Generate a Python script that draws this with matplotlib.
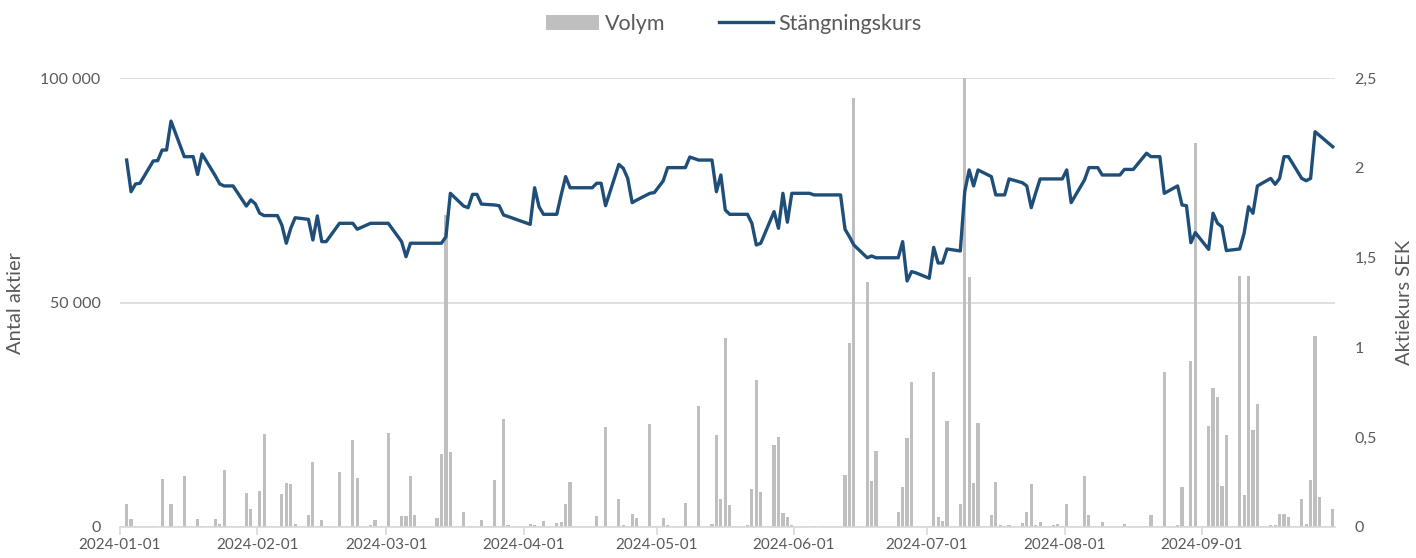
import matplotlib
matplotlib.use("Agg")
import matplotlib.pyplot as plt
import matplotlib.dates as mdates
import matplotlib.ticker as mticker
import pandas as pd

# Closing price (SEK), points where the line changes direction
price_dates = [
    "2024-01-02", "2024-01-03", "2024-01-04", "2024-01-05", "2024-01-08", "2024-01-09",
    "2024-01-10", "2024-01-11", "2024-01-12", "2024-01-15", "2024-01-16", "2024-01-17",
    "2024-01-18", "2024-01-19", "2024-01-22", "2024-01-23", "2024-01-24", "2024-01-26",
    "2024-01-29", "2024-01-30", "2024-01-31", "2024-02-01", "2024-02-02", "2024-02-05",
    "2024-02-06", "2024-02-07", "2024-02-08", "2024-02-09", "2024-02-12", "2024-02-13",
    "2024-02-14", "2024-02-15", "2024-02-16", "2024-02-19", "2024-02-22", "2024-02-23",
    "2024-02-26", "2024-03-01", "2024-03-04", "2024-03-05", "2024-03-06", "2024-03-13",
    "2024-03-14", "2024-03-15", "2024-03-18", "2024-03-19", "2024-03-20", "2024-03-21",
    "2024-03-22", "2024-03-25", "2024-03-26", "2024-03-27", "2024-03-28", "2024-04-02",
    "2024-04-03", "2024-04-04", "2024-04-05", "2024-04-08", "2024-04-09", "2024-04-10",
    "2024-04-11", "2024-04-16", "2024-04-17", "2024-04-18", "2024-04-19", "2024-04-22",
    "2024-04-23", "2024-04-24", "2024-04-25", "2024-04-26", "2024-04-29", "2024-04-30",
    "2024-05-02", "2024-05-03", "2024-05-07", "2024-05-08", "2024-05-10", "2024-05-13",
    "2024-05-14", "2024-05-15", "2024-05-16", "2024-05-17", "2024-05-21", "2024-05-22",
    "2024-05-23", "2024-05-24", "2024-05-27", "2024-05-28", "2024-05-29", "2024-05-30",
    "2024-05-31", "2024-06-04", "2024-06-05", "2024-06-11", "2024-06-12", "2024-06-13",
    "2024-06-14", "2024-06-17", "2024-06-18", "2024-06-19", "2024-06-24", "2024-06-25",
    "2024-06-26", "2024-06-27", "2024-06-28", "2024-07-01", "2024-07-02", "2024-07-03",
    "2024-07-04", "2024-07-05", "2024-07-08", "2024-07-09", "2024-07-10", "2024-07-11",
    "2024-07-12", "2024-07-15", "2024-07-16", "2024-07-18", "2024-07-19", "2024-07-22",
    "2024-07-23", "2024-07-24", "2024-07-25", "2024-07-26", "2024-07-31", "2024-08-01",
    "2024-08-02", "2024-08-05", "2024-08-06", "2024-08-08", "2024-08-09", "2024-08-13",
    "2024-08-14", "2024-08-16", "2024-08-19", "2024-08-20", "2024-08-22", "2024-08-23",
    "2024-08-26", "2024-08-27", "2024-08-28", "2024-08-29", "2024-08-30", "2024-09-02",
    "2024-09-03", "2024-09-04", "2024-09-05", "2024-09-06", "2024-09-09", "2024-09-10",
    "2024-09-11", "2024-09-12", "2024-09-13", "2024-09-16", "2024-09-17", "2024-09-18",
    "2024-09-19", "2024-09-20", "2024-09-23", "2024-09-24", "2024-09-25", "2024-09-26",
    "2024-09-27", "2024-09-30",
]
price_values = [
    2.043, 1.867, 1.910, 1.914, 2.038, 2.040,
    2.099, 2.099, 2.260, 2.062, 2.062, 2.062,
    1.963, 2.077, 1.955, 1.910, 1.899, 1.899,
    1.787, 1.821, 1.800, 1.747, 1.734, 1.734,
    1.681, 1.580, 1.663, 1.722, 1.713, 1.598,
    1.732, 1.589, 1.589, 1.691, 1.691, 1.658,
    1.691, 1.691, 1.589, 1.505, 1.580, 1.580,
    1.616, 1.858, 1.787, 1.778, 1.852, 1.852,
    1.798, 1.793, 1.789, 1.737, 1.729, 1.685,
    1.889, 1.783, 1.741, 1.741, 1.850, 1.951,
    1.889, 1.889, 1.914, 1.914, 1.789, 2.019,
    1.997, 1.941, 1.806, 1.820, 1.858, 1.862,
    1.927, 2.001, 2.001, 2.060, 2.043, 2.043,
    1.867, 1.960, 1.765, 1.741, 1.741, 1.691,
    1.570, 1.580, 1.756, 1.663, 1.858, 1.697,
    1.858, 1.858, 1.849, 1.849, 1.658, 1.616,
    1.570, 1.499, 1.509, 1.499, 1.499, 1.589,
    1.370, 1.422, 1.415, 1.385, 1.557, 1.470,
    1.470, 1.548, 1.537, 1.867, 1.988, 1.899,
    1.988, 1.951, 1.849, 1.849, 1.938, 1.917,
    1.899, 1.778, 1.860, 1.938, 1.938, 1.988,
    1.806, 1.932, 2.001, 2.001, 1.960, 1.960,
    1.991, 1.991, 2.081, 2.062, 2.062, 1.858,
    1.899, 1.793, 1.789, 1.583, 1.639, 1.546,
    1.747, 1.691, 1.672, 1.539, 1.548, 1.635,
    1.783, 1.747, 1.899, 1.941, 1.908, 1.941,
    2.062, 2.062, 1.941, 1.928, 1.941, 2.201,
    2.180, 2.117,
]

# Traded volume (number of shares), days with trades
vol_dates = [
    "2024-01-02", "2024-01-03", "2024-01-04", "2024-01-08", "2024-01-10", "2024-01-12",
    "2024-01-15", "2024-01-18", "2024-01-19", "2024-01-22", "2024-01-23", "2024-01-24",
    "2024-01-29", "2024-01-30", "2024-02-01", "2024-02-02", "2024-02-06", "2024-02-07",
    "2024-02-08", "2024-02-09", "2024-02-12", "2024-02-13", "2024-02-14", "2024-02-15",
    "2024-02-19", "2024-02-22", "2024-02-23", "2024-02-26", "2024-02-27", "2024-03-01",
    "2024-03-04", "2024-03-05", "2024-03-06", "2024-03-07", "2024-03-12", "2024-03-13",
    "2024-03-14", "2024-03-15", "2024-03-18", "2024-03-20", "2024-03-22", "2024-03-25",
    "2024-03-27", "2024-03-28", "2024-04-02", "2024-04-03", "2024-04-04", "2024-04-05",
    "2024-04-08", "2024-04-09", "2024-04-10", "2024-04-11", "2024-04-15", "2024-04-17",
    "2024-04-19", "2024-04-22", "2024-04-23", "2024-04-24", "2024-04-25", "2024-04-26",
    "2024-04-29", "2024-05-02", "2024-05-03", "2024-05-07", "2024-05-08", "2024-05-10",
    "2024-05-13", "2024-05-14", "2024-05-15", "2024-05-16", "2024-05-17", "2024-05-21",
    "2024-05-22", "2024-05-23", "2024-05-24", "2024-05-27", "2024-05-28", "2024-05-29",
    "2024-05-30", "2024-05-31", "2024-06-05", "2024-06-07", "2024-06-12", "2024-06-13",
    "2024-06-14", "2024-06-17", "2024-06-18", "2024-06-19", "2024-06-24", "2024-06-25",
    "2024-06-26", "2024-06-27", "2024-07-01", "2024-07-02", "2024-07-03", "2024-07-04",
    "2024-07-05", "2024-07-08", "2024-07-09", "2024-07-10", "2024-07-11", "2024-07-12",
    "2024-07-15", "2024-07-16", "2024-07-17", "2024-07-18", "2024-07-19", "2024-07-22",
    "2024-07-23", "2024-07-24", "2024-07-25", "2024-07-26", "2024-07-29", "2024-07-30",
    "2024-08-01", "2024-08-02", "2024-08-05", "2024-08-06", "2024-08-09", "2024-08-14",
    "2024-08-19", "2024-08-20", "2024-08-23", "2024-08-26", "2024-08-27", "2024-08-29",
    "2024-08-30", "2024-09-02", "2024-09-03", "2024-09-04", "2024-09-05", "2024-09-06",
    "2024-09-09", "2024-09-10", "2024-09-11", "2024-09-12", "2024-09-13", "2024-09-16",
    "2024-09-17", "2024-09-18", "2024-09-19", "2024-09-20", "2024-09-23", "2024-09-24",
    "2024-09-25", "2024-09-26", "2024-09-27", "2024-09-30",
]
vol_values = [
    5100, 1800, 300, 300, 10600, 5100,
    11400, 1700, 300, 1700, 700, 12800,
    7600, 4100, 8000, 20800, 7300, 9900,
    9600, 700, 2600, 14400, 300, 1500,
    12300, 19400, 11000, 400, 1600, 20900,
    2500, 2500, 11400, 2700, 2100, 16300,
    69500, 16800, 3400, 300, 1600, 10500,
    24000, 400, 700, 400, 300, 1400,
    800, 1100, 5100, 10100, 300, 2400,
    22300, 6200, 500, 300, 3000, 2100,
    23000, 2100, 500, 5400, 300, 27000,
    600, 20600, 6200, 42000, 4800, 500,
    8500, 32700, 7900, 18200, 20000, 3200,
    2300, 400, 300, 300, 11600, 41000,
    95500, 54600, 10200, 16900, 3400, 9000,
    19800, 32200, 300, 34600, 2300, 1300,
    23500, 5200, 105000, 55700, 9900, 23200,
    2700, 10100, 400, 300, 500, 900,
    3400, 9600, 400, 1200, 400, 600,
    5100, 300, 11400, 2700, 1200, 600,
    300, 2600, 34600, 400, 8900, 37000,
    85500, 22600, 30900, 29000, 9100, 20400,
    56000, 7100, 56000, 21500, 27500, 400,
    400, 3000, 3000, 2300, 6200, 600,
    10500, 42600, 6700, 4000,
]

month_ticks = ["2024-01-01", "2024-02-01", "2024-03-01", "2024-04-01", "2024-05-01",
               "2024-06-01", "2024-07-01", "2024-08-01", "2024-09-01"]

plt.rcParams["font.family"] = ["Lato", "DejaVu Sans"]
text_col = "#595959"
grid_col = "#D9D9D9"

# bars sit in the middle of their day slot, like Excel's date axis
half_day = pd.Timedelta(hours=12)
vx = pd.to_datetime(vol_dates) + half_day
px = pd.to_datetime(price_dates) + half_day

fig = plt.figure(figsize=(14.16, 5.58), dpi=100)
ax = fig.add_axes([120 / 1416, 1 - 527 / 558, (1335 - 120) / 1416, (527 - 78) / 558])
ax2 = ax.twinx()

ax.bar(vx, vol_values, width=0.72, color="#BFBFBF", label="Volym", zorder=2)
ax2.plot(px, price_values, color="#1F4E79", lw=2.4, label="Stängningskurs",
         solid_joinstyle="round", zorder=3)

ax.set_xlim(pd.Timestamp("2024-01-01"), pd.Timestamp("2024-10-01"))
ax.set_ylim(0, 100000)
ax2.set_ylim(0, 2.5)

ax.set_yticks([0, 50000, 100000])
ax.yaxis.set_major_formatter(mticker.FuncFormatter(lambda v, p: f"{int(v):,}".replace(",", " ")))
ax2.set_yticks([0, 0.5, 1, 1.5, 2, 2.5])
ax2.yaxis.set_major_formatter(mticker.FuncFormatter(lambda v, p: f"{v:g}".replace(".", ",")))

ax.set_xticks(pd.to_datetime(month_ticks))
ax.xaxis.set_major_formatter(mdates.DateFormatter("%Y-%m-%d"))

ax.grid(axis="y", color=grid_col, lw=1.2, zorder=0)
ax.set_axisbelow(True)

for a in (ax, ax2):
    for s in ("top", "left", "right", "bottom"):
        a.spines[s].set_visible(False)
ax.spines["bottom"].set_visible(True)
ax.spines["bottom"].set_color(grid_col)
ax.spines["bottom"].set_linewidth(1.2)

ax.tick_params(axis="x", colors=grid_col, length=6, width=1.2, labelcolor=text_col,
               labelsize=11, pad=2)
ax.tick_params(axis="y", length=0, labelcolor=text_col, labelsize=11.5, pad=14)
ax2.tick_params(axis="y", length=0, labelcolor=text_col, labelsize=11.5, pad=14)

ax.set_ylabel("Antal aktier", color=text_col, fontsize=14.5, labelpad=12)
ax2.set_ylabel("Aktiekurs SEK", color=text_col, fontsize=14.5, rotation=90, labelpad=14)

h1, l1 = ax.get_legend_handles_labels()
h2, l2 = ax2.get_legend_handles_labels()
fig.legend(h1 + h2, l1 + l2, loc="upper center", bbox_to_anchor=(0.518, 1.01), ncol=2,
           frameon=False, fontsize=15.5, labelcolor=text_col, handlelength=2.5,
           handletextpad=0.25, columnspacing=2.5)

fig.savefig("out.png", dpi=100)
